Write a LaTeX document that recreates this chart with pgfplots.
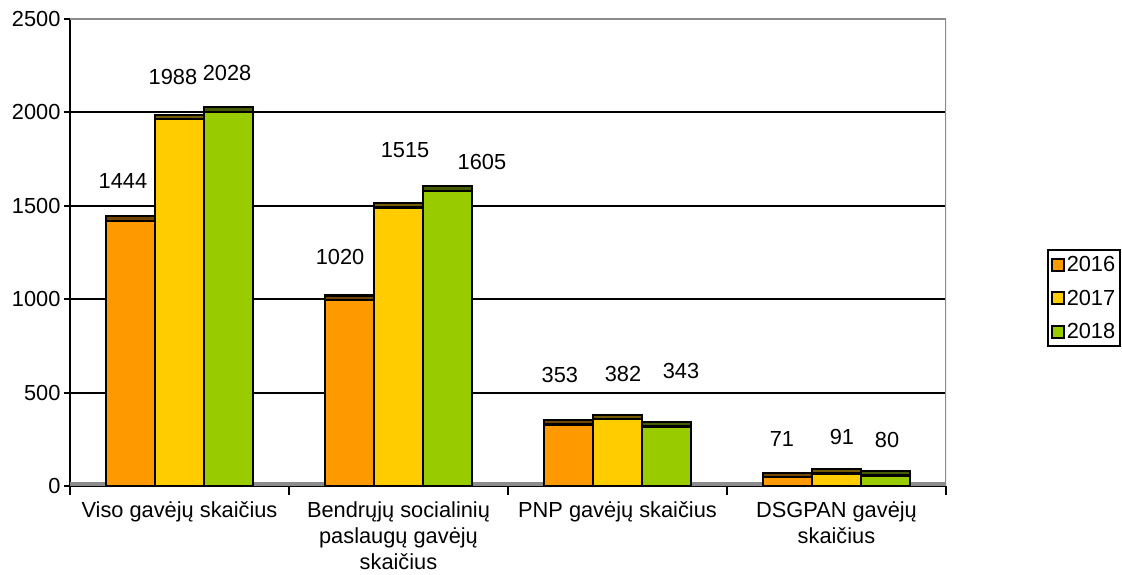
\documentclass[border=0pt]{standalone}
\usepackage{fontspec}
\setmainfont{Liberation Sans}
\usepackage{pgfplots}
\pgfplotsset{compat=1.18}

\definecolor{c16}{HTML}{FF9900}
\definecolor{c17}{HTML}{FFCC00}
\definecolor{c18}{HTML}{99CC00}
\definecolor{frame}{HTML}{8C8C8C}
\newcommand{\lbl}{\fontsize{21.8}{26}\selectfont}

\begin{document}
\begin{tikzpicture}
  \begin{axis}[
      at={(70pt,88pt)}, anchor=south west,
      scale only axis,
      width=876pt, height=467pt,
      xmin=-0.5, xmax=3.5,
      ymin=0, ymax=2500,
      axis x line*=bottom, axis y line*=left,
      axis line style={line width=2.2pt, black},
      tick align=outside,
      ytick={0,500,...,2500},
      ymajorgrids,
      grid style={line width=2pt, black},
      major tick length=6pt,
      tick style={line width=2pt, black},
      xtick={0,1,2,3},
      xticklabels={Viso gavėjų skaičius,
                   {Bendrųjų socialinių\\paslaugų gavėjų\\skaičius},
                   PNP gavėjų skaičius,
                   {DSGPAN gavėjų\\skaičius}},
      major x tick style={draw=none},
      minor xtick={-0.5,0.5,1.5,2.5,3.5},
      minor tick length=9pt,
      xticklabel style={align=center, font=\lbl, yshift=-6pt},
      yticklabel style={font=\lbl},
      /pgf/number format/assume math mode=true,
      /pgf/number format/1000 sep={},
      legend style={at={(1.115,0.507)}, anchor=north west,
                    draw=black, line width=2pt, font=\lbl,
                    row sep=13pt, inner xsep=3pt, inner ysep=4pt,
                    cells={anchor=west}},
      legend image code/.code={%
        \draw[#1, draw=black, line width=2pt] (0pt,-6pt) rectangle (12pt,6pt);},
    ]

    % floor
    \fill[frame] (axis cs:-0.5,0) rectangle (axis cs:3.5,24);

    % 2016
    \addplot[ybar, bar width=49pt, bar shift=-49pt, fill=c16!45!black,
      draw=black, line width=2.2pt, forget plot]
      coordinates {(0,1444) (1,1020) (2,353) (3,71)};
    \addplot[ybar, bar width=49pt, bar shift=-49pt, fill=c16,
      draw=black, line width=2.2pt]
      coordinates {(0,1420) (1,996) (2,329) (3,47)};
    \addlegendentry{2016}

    % 2017
    \addplot[ybar, bar width=49pt, bar shift=0pt, fill=c17!45!black,
      draw=black, line width=2.2pt, forget plot]
      coordinates {(0,1988) (1,1515) (2,382) (3,91)};
    \addplot[ybar, bar width=49pt, bar shift=0pt, fill=c17,
      draw=black, line width=2.2pt]
      coordinates {(0,1964) (1,1491) (2,358) (3,67)};
    \addlegendentry{2017}

    % 2018
    \addplot[ybar, bar width=49pt, bar shift=49pt, fill=c18!45!black,
      draw=black, line width=2.2pt, forget plot]
      coordinates {(0,2028) (1,1605) (2,343) (3,80)};
    \addplot[ybar, bar width=49pt, bar shift=49pt, fill=c18,
      draw=black, line width=2.2pt]
      coordinates {(0,2004) (1,1581) (2,319) (3,56)};
    \addlegendentry{2018}

    % top and right frame
    \draw[frame, line width=2.5pt] (rel axis cs:0,1) -- (rel axis cs:1,1) -- (rel axis cs:1,0);

    % value labels
    \node[font=\lbl] at (axis cs:-0.258,1633) {1444};
    \node[font=\lbl] at (axis cs:-0.030,2190) {1988};
    \node[font=\lbl] at (axis cs:0.217,2211) {2028};
    \node[font=\lbl] at (axis cs:0.733,1226) {1020};
    \node[font=\lbl] at (axis cs:1.030,1799) {1515};
    \node[font=\lbl] at (axis cs:1.381,1734) {1605};
    \node[font=\lbl] at (axis cs:1.737,594) {353};
    \node[font=\lbl] at (axis cs:2.025,600) {382};
    \node[font=\lbl] at (axis cs:2.290,616) {343};
    \node[font=\lbl] at (axis cs:2.751,252) {71};
    \node[font=\lbl] at (axis cs:3.025,262) {91};
    \node[font=\lbl] at (axis cs:3.231,246) {80};
  \end{axis}
  \pgfresetboundingbox
  \path[use as bounding box] (0,0) rectangle (1122pt,574pt);
\end{tikzpicture}
\end{document}
